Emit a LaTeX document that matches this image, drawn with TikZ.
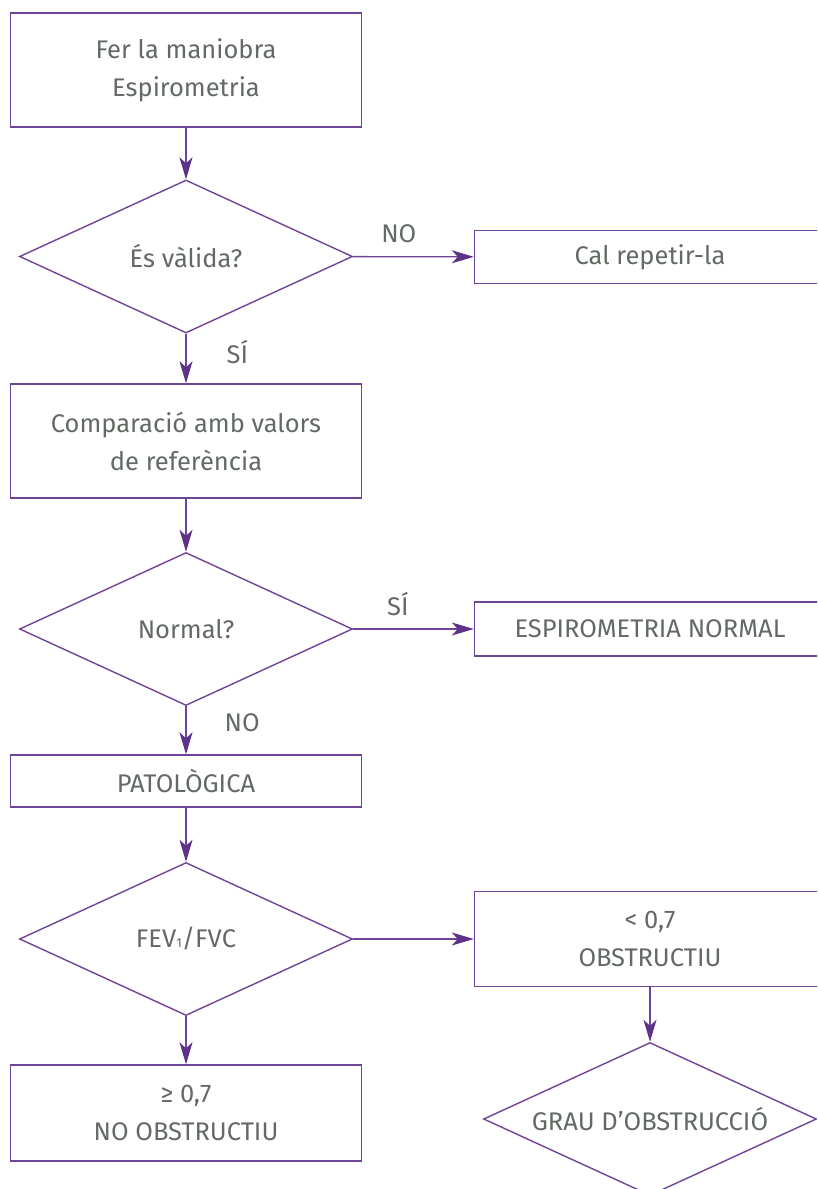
\documentclass[tikz,border=0pt]{standalone}
\usepackage{fontspec}
\setmainfont{Fira Sans}
\usetikzlibrary{shapes.geometric,arrows.meta}
\definecolor{linepurple}{HTML}{6E4596}
\definecolor{tippurple}{HTML}{5E3287}
\definecolor{textgray}{HTML}{636A64}

\begin{document}
\begin{tikzpicture}[x=1pt,y=-1pt,every node/.style={text=textgray,font=\fontsize{25.5}{38}\selectfont},box/.style={draw=linepurple,line width=1.4pt,rectangle,minimum width=351pt,align=center,inner sep=0pt},question/.style={draw=linepurple,line width=1.4pt,diamond,aspect=2.2,minimum width=333pt,minimum height=153pt,inner sep=0pt},flow/.style={draw=linepurple,line width=1.4pt,-{Stealth[length=22pt,width=13pt,inset=6pt,fill=tippurple,color=tippurple]}},answer/.style={inner sep=2pt}]
\useasboundingbox (0,0) rectangle (817,1189);
\clip (0,0) rectangle (817,1189);
% left column
\node[box,minimum height=114pt] (start) at (186,70) {Fer la maniobra\\Espirometria};
\node[question] (valid) at (186,256.5) {És vàlida?};
\node[box,minimum height=114pt] (compare) at (186,441) {Comparació amb valors\\de referència};
\node[question] (normal) at (186,629) {Normal?};
\node[box,minimum height=52pt] (patho) at (186,781) {PATOLÒGICA};
\node[question] (ratio) at (186,939) {FEV{\fontsize{13}{13}\selectfont 1}/FVC};
\node[box,minimum height=96pt] (noobstr) at (186,1113) {≥ 0,7\\NO OBSTRUCTIU};
% right column
\node[box,minimum height=53pt] (repeat) at (650,257) {Cal repetir-la};
\node[box,minimum height=54pt] (normalres) at (650,629) {ESPIROMETRIA NORMAL};
\node[box,minimum height=95pt] (obstr) at (650,939) {< 0,7\\OBSTRUCTIU};
\node[question] (degree) at (650,1119) {GRAU D’OBSTRUCCIÓ};
% connectors
\draw[flow] (start) -- (valid);
\draw[flow] (valid) -- node[answer,pos=0.38,above=11pt]{NO} (repeat);
\draw[flow] (valid) -- node[answer,pos=0.37,right=38pt]{SÍ} (compare);
\draw[flow] (compare) -- (normal);
\draw[flow] (normal) -- node[answer,pos=0.37,above=11pt]{SÍ} (normalres);
\draw[flow] (normal) -- node[answer,pos=0.34,right=36pt]{NO} (patho);
\draw[flow] (patho) -- (ratio);
\draw[flow] (ratio) -- (obstr);
\draw[flow] (ratio) -- (noobstr);
\draw[flow] (obstr) -- (degree);
\end{tikzpicture}
\end{document}
